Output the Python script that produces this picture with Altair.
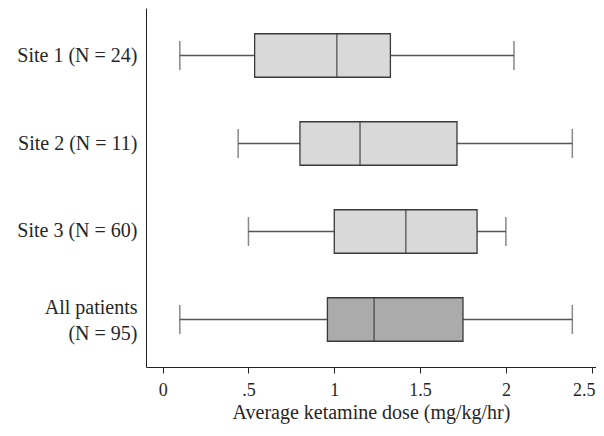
import altair as alt
import pandas as pd

groups = ["Site 1 (N = 24)", "Site 2 (N = 11)", "Site 3 (N = 60)", "All patients|(N = 95)"]
lo = [0.10, 0.44, 0.50, 0.10]
q1 = [0.536, 0.80, 1.00, 0.96]
med = [1.015, 1.15, 1.417, 1.232]
q3 = [1.327, 1.715, 1.832, 1.75]
hi = [2.047, 2.387, 2.00, 2.387]
fills = ["#d9d9d9", "#d9d9d9", "#d9d9d9", "#ababab"]
x_ticks = [0, 0.5, 1, 1.5, 2, 2.5]

df = pd.DataFrame({"group": groups, "lo": lo, "q1": q1, "med": med,
                   "q3": q3, "hi": hi, "fill": fills})

FONT = "Liberation Serif"
TXT = "#262626"
xscale = alt.Scale(domain=[-0.097, 2.525], nice=False, zero=False)
yscale = alt.Scale(paddingInner=0, paddingOuter=0.04)

y_enc = alt.Y("group:N", sort=groups, scale=yscale,
              axis=alt.Axis(title=None, ticks=False, labelFontSize=20, labelFont=FONT,
                            labelColor=TXT, labelPadding=9, domainColor="#222",
                            labelLineHeight=26, labelLimit=300,
                            labelOffset={"condition": {"test": "indexof(datum.value, '|') >= 0",
                                                       "value": -11}, "value": 0},
                            labelExpr="split(datum.label, '|')"))
x_axis = alt.Axis(values=x_ticks, title="Average ketamine dose (mg/kg/hr)", grid=False,
                  labelFontSize=18, labelFont=FONT, labelColor=TXT, labelPadding=8,
                  labelFlush=False,
                  labelOffset={"condition": {"test": "datum.value == 2.5", "value": -8},
                               "value": 0},
                  titleFontSize=20, titleFont=FONT, titleFontWeight="normal",
                  titleColor=TXT, titlePadding=3, tickSize=6, tickColor="#222",
                  domainColor="#222",
                  labelExpr="datum.value == 0.5 ? '.5' : format(datum.value, '~g')")

base = alt.Chart(df)
whisk = base.mark_rule(color="#555", strokeWidth=1.3).encode(
    x=alt.X("lo:Q", scale=xscale, axis=x_axis), x2="hi:Q", y=y_enc)
caps_lo = base.mark_tick(color="#555", thickness=1.5, size=29).encode(
    x=alt.X("lo:Q", scale=xscale), y=alt.Y("group:N", sort=groups, scale=yscale))
caps_hi = base.mark_tick(color="#555", thickness=1.5, size=29).encode(
    x=alt.X("hi:Q", scale=xscale), y=alt.Y("group:N", sort=groups, scale=yscale))
box = base.mark_bar(stroke="#3a3a3a", strokeWidth=1.3, size=43.5).encode(
    x=alt.X("q1:Q", scale=xscale), x2="q3:Q",
    y=alt.Y("group:N", sort=groups, scale=yscale),
    fill=alt.Fill("fill:N", scale=None))
median = base.mark_tick(color="#333", thickness=1.5, size=43.5).encode(
    x=alt.X("med:Q", scale=xscale), y=alt.Y("group:N", sort=groups, scale=yscale))

chart = alt.layer(whisk, caps_lo, caps_hi, box, median).properties(
    width=450, height=359,
    autosize=alt.AutoSizeParams(type="none"),
    padding={"left": 138, "top": 0, "right": 0, "bottom": 60},
    background="white",
).configure_view(stroke=None)

chart.save("out.html", embed_options={"renderer": "svg", "actions": False})
